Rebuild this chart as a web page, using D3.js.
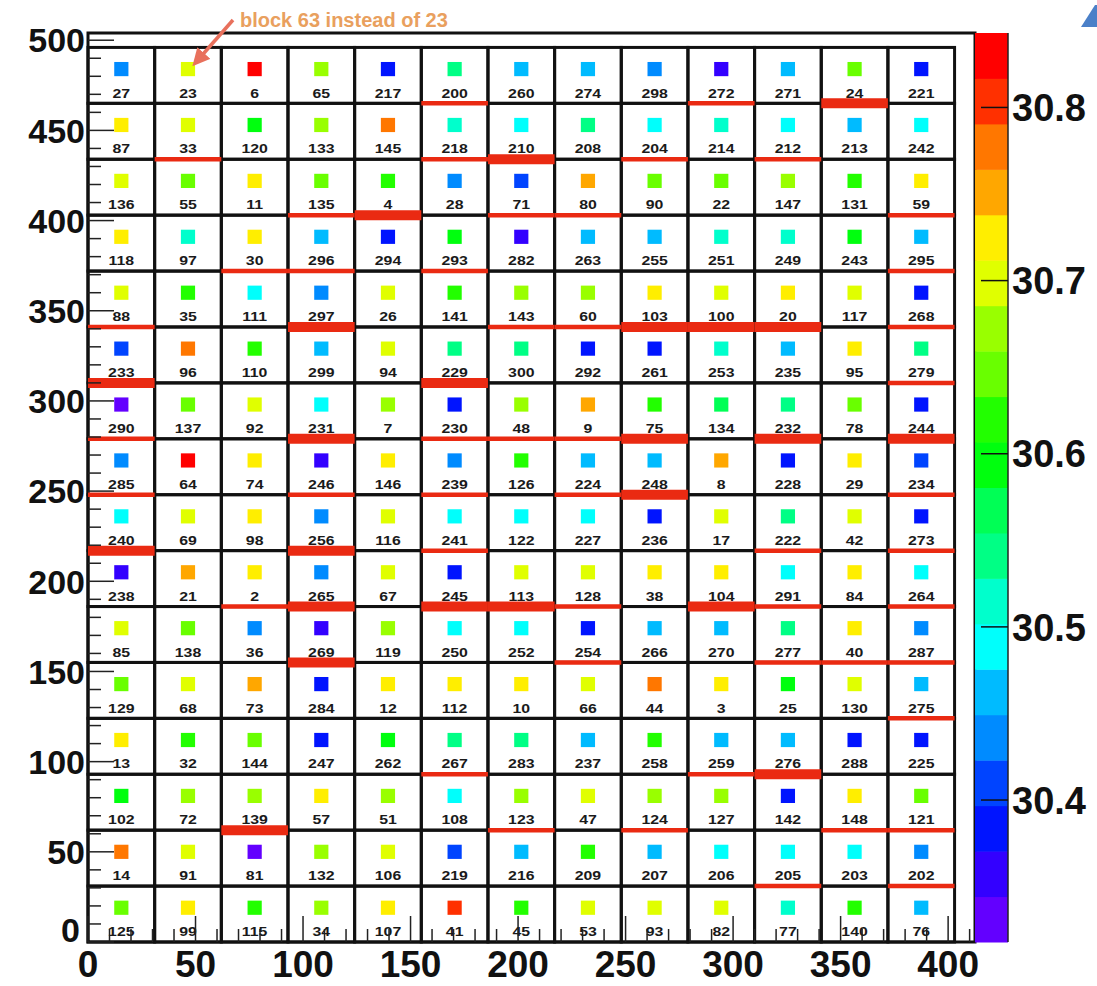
<!DOCTYPE html>
<html>
<head>
<meta charset="utf-8">
<script src="https://cdn.jsdelivr.net/npm/d3@7"></script>
<style>
  body { margin: 0; background: #fff; }
  svg { display: block; font-family: "Liberation Sans", Arial, sans-serif; }
</style>
</head>
<body>
<div id="chart"></div>
<script>
// block numbers, top row first (13 columns x 16 rows)
var blockIds = [
  [27, 23, 6, 65, 217, 200, 260, 274, 298, 272, 271, 24, 221],
  [87, 33, 120, 133, 145, 218, 210, 208, 204, 214, 212, 213, 242],
  [136, 55, 11, 135, 4, 28, 71, 80, 90, 22, 147, 131, 59],
  [118, 97, 30, 296, 294, 293, 282, 263, 255, 251, 249, 243, 295],
  [88, 35, 111, 297, 26, 141, 143, 60, 103, 100, 20, 117, 268],
  [233, 96, 110, 299, 94, 229, 300, 292, 261, 253, 235, 95, 279],
  [290, 137, 92, 231, 7, 230, 48, 9, 75, 134, 232, 78, 244],
  [285, 64, 74, 246, 146, 239, 126, 224, 248, 8, 228, 29, 234],
  [240, 69, 98, 256, 116, 241, 122, 227, 236, 17, 222, 42, 273],
  [238, 21, 2, 265, 67, 245, 113, 128, 38, 104, 291, 84, 264],
  [85, 138, 36, 269, 119, 250, 252, 254, 266, 270, 277, 40, 287],
  [129, 68, 73, 284, 12, 112, 10, 66, 44, 3, 25, 130, 275],
  [13, 32, 144, 247, 262, 267, 283, 237, 258, 259, 276, 288, 225],
  [102, 72, 139, 57, 51, 108, 123, 47, 124, 127, 142, 148, 121],
  [14, 91, 81, 132, 106, 219, 216, 209, 207, 206, 205, 203, 202],
  [125, 99, 115, 34, 107, 41, 45, 53, 93, 82, 77, 140, 76]
];

// measured value per block (same layout)
var blockValues = [
  [30.437, 30.701, 30.832, 30.668, 30.386, 30.541, 30.463, 30.458, 30.432, 30.357, 30.461, 30.647, 30.382],
  [30.726, 30.698, 30.594, 30.673, 30.776, 30.513, 30.491, 30.538, 30.487, 30.517, 30.489, 30.455, 30.492],
  [30.702, 30.642, 30.728, 30.648, 30.621, 30.438, 30.409, 30.752, 30.644, 30.647, 30.671, 30.618, 30.722],
  [30.727, 30.512, 30.719, 30.464, 30.381, 30.597, 30.356, 30.461, 30.459, 30.514, 30.518, 30.592, 30.466],
  [30.697, 30.622, 30.493, 30.433, 30.704, 30.617, 30.669, 30.674, 30.729, 30.699, 30.731, 30.703, 30.388],
  [30.412, 30.778, 30.619, 30.463, 30.696, 30.539, 30.543, 30.384, 30.387, 30.516, 30.458, 30.724, 30.537],
  [30.332, 30.649, 30.694, 30.488, 30.671, 30.383, 30.668, 30.749, 30.623, 30.566, 30.542, 30.644, 30.389],
  [30.436, 30.826, 30.727, 30.359, 30.731, 30.434, 30.621, 30.462, 30.466, 30.753, 30.384, 30.721, 30.413],
  [30.487, 30.702, 30.726, 30.439, 30.697, 30.491, 30.486, 30.493, 30.386, 30.701, 30.544, 30.698, 30.381],
  [30.361, 30.748, 30.729, 30.437, 30.694, 30.388, 30.703, 30.699, 30.724, 30.727, 30.489, 30.722, 30.494],
  [30.701, 30.646, 30.434, 30.356, 30.672, 30.492, 30.488, 30.385, 30.463, 30.459, 30.539, 30.726, 30.437],
  [30.643, 30.697, 30.754, 30.383, 30.731, 30.728, 30.724, 30.702, 30.779, 30.726, 30.597, 30.699, 30.461],
  [30.728, 30.618, 30.647, 30.386, 30.593, 30.538, 30.542, 30.463, 30.621, 30.458, 30.462, 30.384, 30.388],
  [30.596, 30.673, 30.669, 30.729, 30.672, 30.491, 30.667, 30.703, 30.671, 30.674, 30.382, 30.727, 30.646],
  [30.774, 30.699, 30.329, 30.671, 30.698, 30.411, 30.459, 30.622, 30.464, 30.489, 30.492, 30.487, 30.435],
  [30.644, 30.726, 30.619, 30.668, 30.723, 30.806, 30.622, 30.702, 30.697, 30.700, 30.516, 30.621, 30.462]
];

// blocks whose lower edge is marked in red
var redThin = [200, 272, 33, 218, 204, 212, 135, 71, 80, 59, 30, 296, 293, 295,
  88, 143, 60, 268, 279, 290, 230, 48, 9, 285, 246, 239, 224, 234, 241, 222, 273,
  2, 128, 291, 264, 254, 277, 40, 287, 275, 267, 259, 123, 124, 148, 121, 205, 202];
var redThick = [24, 210, 4, 297, 103, 100, 20, 233, 229, 231, 75, 232, 244, 248,
  240, 256, 265, 245, 113, 104, 269, 276, 139];

var xTicks = [0, 50, 100, 150, 200, 250, 300, 350, 400];
var yTicks = [0, 50, 100, 150, 200, 250, 300, 350, 400, 450, 500];
var zTicks = [30.4, 30.5, 30.6, 30.7, 30.8];
var zRange = [30.318, 30.843];
var nContours = 20;
var blockSize = 31;
var note = "block 63 instead of 23";

var W = 1097, H = 986;
var svg = d3.select("#chart").append("svg").attr("width", W).attr("height", H);

var x = d3.scaleLinear().domain([0, 412.5]).range([88, 975]);
var y = d3.scaleLinear().domain([0, 504]).range([942, 33]);

// ROOT style rainbow palette, 50 colours sampled for 20 contours
var palette = d3.range(nContours).map(function(i) {
    var idx = Math.floor((i + 0.99) * 50 / nContours);
    return d3.hsl(280 - (idx + 1) * 5.6, 1, 0.5).formatHex();
});
var color = d3.scaleQuantize().domain(zRange).range(palette);

var cells = [];
blockIds.forEach(function(row, r) {
    row.forEach(function(id, c) {
        cells.push({id: id, v: blockValues[r][c], x0: c * blockSize, y0: (blockIds.length - 1 - r) * blockSize});
    });
});

var g = svg.append("g");

// frame
g.append("rect")
    .attr("x", x(0)).attr("y", y(504))
    .attr("width", x(412.5) - x(0)).attr("height", y(0) - y(504))
    .attr("fill", "none").attr("stroke", "#111").attr("stroke-width", 3);

// blocks
g.selectAll("rect.block").data(cells).enter().append("rect")
    .attr("class", "block")
    .attr("x", function(d) { return x(d.x0); })
    .attr("y", function(d) { return y(d.y0 + blockSize); })
    .attr("width", x(blockSize) - x(0))
    .attr("height", y(0) - y(blockSize))
    .attr("fill", "none").attr("stroke", "#111").attr("stroke-width", 3);

var sq = x(6.6) - x(0);
g.selectAll("rect.val").data(cells).enter().append("rect")
    .attr("class", "val")
    .attr("x", function(d) { return x(d.x0 + blockSize / 2) - sq / 2; })
    .attr("y", function(d) { return y(d.y0 + 19) - sq / 2; })
    .attr("width", sq).attr("height", sq)
    .attr("fill", function(d) { return color(d.v); });

g.selectAll("text.id").data(cells).enter().append("text")
    .attr("class", "id")
    .attr("transform", function(d) {
        return "translate(" + x(d.x0 + blockSize / 2) + "," + y(d.y0 + 3.2) + ") scale(1.22,1)";
    })
    .attr("text-anchor", "middle")
    .style("font-size", "13px").style("font-weight", "bold").attr("fill", "#1a1a1a")
    .text(function(d) { return d.id; });

// red edges
function redEdges(list, w) {
    g.selectAll(null).data(cells.filter(function(d) { return list.indexOf(d.id) >= 0; }))
        .enter().append("line")
        .attr("x1", function(d) { return x(d.x0); })
        .attr("x2", function(d) { return x(d.x0 + blockSize); })
        .attr("y1", function(d) { return y(d.y0); })
        .attr("y2", function(d) { return y(d.y0); })
        .attr("stroke", "#ea2a12").attr("stroke-width", w);
}
redEdges(redThin, 4.5);
redEdges(redThick, 10);

// axes, ticks drawn inside the frame
var xMinor = d3.range(0, 411, 10), yMinor = d3.range(0, 504, 10);
g.selectAll(null).data(xMinor).enter().append("line")
    .attr("x1", function(d) { return x(d); }).attr("x2", function(d) { return x(d); })
    .attr("y1", y(0)).attr("y2", function(d) { return y(0) - (d % 50 === 0 ? 26 : 13); })
    .attr("stroke", "#222").attr("stroke-width", 1.5);
g.selectAll(null).data(yMinor).enter().append("line")
    .attr("y1", function(d) { return y(d); }).attr("y2", function(d) { return y(d); })
    .attr("x1", x(0)).attr("x2", function(d) { return x(0) + (d % 50 === 0 ? 26 : 13); })
    .attr("stroke", "#222").attr("stroke-width", 1.5);

g.selectAll("text.xl").data(xTicks).enter().append("text")
    .attr("class", "xl")
    .attr("x", function(d) { return x(d); }).attr("y", 977)
    .attr("text-anchor", "middle")
    .style("font-size", "37px").style("font-weight", "bold").attr("fill", "#111")
    .text(function(d) { return d; });
g.selectAll("text.yl").data(yTicks).enter().append("text")
    .attr("class", "yl")
    .attr("x", function(d) { return d === 0 ? 80 : 85; })
    .attr("y", function(d) { return d === 0 ? y(d) - 12 : y(d); })
    .attr("dy", "0.36em")
    .attr("text-anchor", "end")
    .style("font-size", "34px").style("font-weight", "bold").attr("fill", "#111")
    .text(function(d) { return d; });

// colour bar
var z = d3.scaleLinear().domain(zRange).range([942, 33]);
var cb = svg.append("g");
var step = (zRange[1] - zRange[0]) / nContours;
cb.selectAll("rect").data(palette).enter().append("rect")
    .attr("x", 975).attr("width", 33)
    .attr("y", function(c, i) { return z(zRange[0] + (i + 1) * step); })
    .attr("height", function(c, i) { return z(zRange[0] + i * step) - z(zRange[0] + (i + 1) * step) + 0.5; })
    .attr("fill", function(c) { return c; });
cb.append("line").attr("x1", 1008).attr("x2", 1008).attr("y1", 33).attr("y2", 942)
    .attr("stroke", "#222").attr("stroke-width", 1.5);
cb.selectAll("line.zt").data(zTicks).enter().append("line")
    .attr("class", "zt")
    .attr("x1", 981).attr("x2", 1008)
    .attr("y1", function(d) { return z(d); }).attr("y2", function(d) { return z(d); })
    .attr("stroke", "#111").attr("stroke-width", 1.5);
cb.selectAll("text").data(zTicks).enter().append("text")
    .attr("x", 1012).attr("y", function(d) { return z(d); })
    .attr("dy", "0.36em")
    .style("font-size", "38px").style("font-weight", "bold").attr("fill", "#111")
    .text(function(d) { return d3.format(".1f")(d); });

// annotation
svg.append("defs").append("marker")
    .attr("id", "head").attr("viewBox", "0 0 10 10").attr("refX", 6).attr("refY", 5)
    .attr("markerWidth", 5).attr("markerHeight", 5).attr("orient", "auto")
    .append("path").attr("d", "M0,0L10,5L0,10z").attr("fill", "#e8705c");
svg.append("line")
    .attr("x1", 233).attr("y1", 20).attr("x2", 197).attr("y2", 61)
    .attr("stroke", "#e8705c").attr("stroke-width", 3.5).attr("marker-end", "url(#head)");
svg.append("text")
    .attr("x", 240).attr("y", 27)
    .style("font-size", "20px").style("font-weight", "bold").attr("fill", "#e9a05e")
    .text(note);

svg.append("path")
    .attr("d", "M1081,27L1095,5L1097,5L1097,27Z")
    .attr("fill", "#4b80c8");
</script>
</body>
</html>
